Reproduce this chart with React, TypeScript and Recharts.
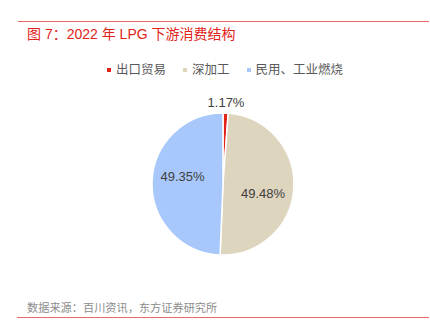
import { PieChart, Pie, Cell } from "recharts";

const categories = ["出口贸易", "深加工", "民用、工业燃烧"];
const shares = [1.17, 49.48, 49.35];
const colors = ["#e2231a", "#ded5be", "#a8c8fc"];

const data = categories.map((name, i) => ({ name, value: shares[i], color: colors[i] }));

const FONT = '"Liberation Sans", "Noto Sans CJK SC", sans-serif';
const RAD = Math.PI / 180;

const renderLabel = ({ cx, cy, midAngle, outerRadius, value }: any) => {
  const small = value < 5;
  const angle = small ? midAngle : midAngle - 10;
  const r = small ? outerRadius + 11 : outerRadius * 0.58;
  const x = cx + r * Math.cos(-angle * RAD);
  const y = cy + r * Math.sin(-angle * RAD);
  return (
    <text
      x={x}
      y={y}
      textAnchor="middle"
      dominantBaseline="central"
      fontSize={13}
      fontFamily={FONT}
      fill="#404040"
    >
      {`${value.toFixed(2)}%`}
    </text>
  );
};

export default function App() {
  return (
    <div style={{ position: "absolute", left: 0, top: 0, width: 430, height: 334, background: "#fff", overflow: "hidden" }}>
      <div style={{ position: "absolute", left: 18, top: 21, width: 411, height: 1, background: "#ee6a6a" }} />
      <div
        style={{
          position: "absolute",
          left: 27,
          top: 25,
          fontFamily: FONT,
          fontSize: 14,
          color: "#e2231a",
          lineHeight: "18px",
          whiteSpace: "nowrap",
        }}
      >
        图 7：2022 年 LPG 下游消费结构
      </div>
      <div style={{ position: "absolute", left: 0, top: 0 }}>
        <PieChart width={430} height={334} margin={{ top: 0, right: 0, bottom: 0, left: 0 }}>
          <Pie
            data={data}
            dataKey="value"
            nameKey="name"
            cx={223}
            cy={184}
            outerRadius={71}
            startAngle={90}
            endAngle={-270}
            stroke="#fff"
            strokeWidth={1.5}
            label={renderLabel}
            labelLine={false}
            isAnimationActive={false}
          >
            {data.map((d, i) => (
              <Cell key={i} fill={d.color} />
            ))}
          </Pie>
        </PieChart>
      </div>
      <div
        style={{
          position: "absolute",
          left: 107,
          top: 62,
          display: "flex",
          fontFamily: FONT,
          fontSize: 12.5,
          color: "#595959",
          lineHeight: "16px",
          whiteSpace: "nowrap",
        }}
      >
        {data.map((d) => (
          <div key={d.name} style={{ display: "flex", alignItems: "center", marginRight: 17 }}>
            <span style={{ width: 4, height: 4, background: d.color, display: "inline-block", marginRight: 5 }} />
            <span>{d.name}</span>
          </div>
        ))}
      </div>
      <div
        style={{
          position: "absolute",
          left: 27,
          top: 301,
          fontFamily: FONT,
          fontSize: 11.2,
          color: "#8c8c8c",
          lineHeight: "14px",
          whiteSpace: "nowrap",
        }}
      >
        数据来源：百川资讯，东方证券研究所
      </div>
      <div style={{ position: "absolute", left: 17, top: 317, width: 412, height: 1, background: "#ee6a6a" }} />
    </div>
  );
}
